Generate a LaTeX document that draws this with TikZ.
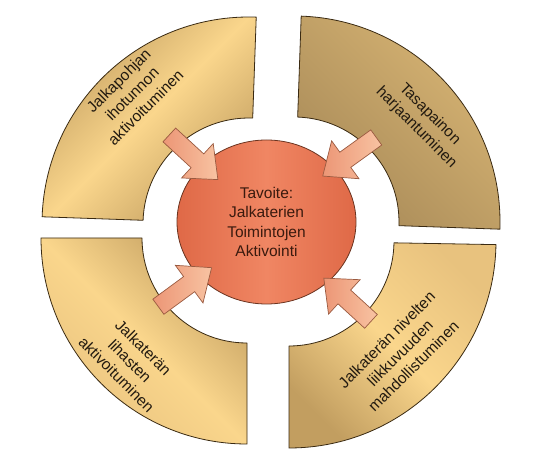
\documentclass[tikz,border=0pt]{standalone}
\usepackage{fontspec}
\setmainfont{Liberation Sans}
\usetikzlibrary{calc,shapes.arrows,shapes.geometric}
\definecolor{segLight}{HTML}{FAD68C}
\definecolor{segMid}{HTML}{E8C27E}
\definecolor{segDark}{HTML}{C29E60}
\definecolor{trDark}{HTML}{A88A58}
\definecolor{trLight}{HTML}{D8B574}
\definecolor{segLine}{HTML}{3A2A12}
\definecolor{circA}{HTML}{DF6947}
\definecolor{circB}{HTML}{F08663}
\definecolor{circLine}{HTML}{6B3420}
\definecolor{arrA}{HTML}{EC9676}
\definecolor{arrB}{HTML}{F8C3A2}
\definecolor{arrLine}{HTML}{9A5A40}
\definecolor{txt}{HTML}{221A10}
\definecolor{ctxt}{HTML}{3A1A0E}
\tikzset{
  seg/.style={draw=segLine, line width=0.8pt, line join=round},
  segtext/.style={font=\fontsize{15.5}{19}\selectfont, align=center, text=txt, inner sep=0pt},
  inarrow/.style={single arrow, draw=arrLine, line width=0.7pt,
    left color=arrA, right color=arrB,
    minimum height=#1, inner xsep=0pt, inner ysep=9pt,
    single arrow head extend=14pt, single arrow tip angle=80,
    single arrow head indent=0pt},
}
\begin{document}
\begin{tikzpicture}[x=1pt,y=1pt]
\fill[white] (0,0) rectangle (554,-462);
\useasboundingbox (0,0) rectangle (554,-462);
% corners of the four quarter rings
\coordinate (cTL) at (249,-224);
\coordinate (cTR) at (294,-222);
\coordinate (cBL) at (247,-238);
\coordinate (cBR) at (289,-241);
% top left ring
\shade[seg, top color=segDark, bottom color=segDark, middle color=segLight, shading angle=45]
  ($(cTL)+(88:207)$) arc[start angle=88, end angle=178, radius=207]
  -- ($(cTL)+(178:106)$) arc[start angle=178, end angle=88, radius=106] -- cycle;
% top right ring
\shade[seg, top color=trLight, bottom color=trDark, shading angle=-45]
  ($(cTR)+(-2:206)$) arc[start angle=-2, end angle=88, radius=206]
  -- ($(cTR)+(88:105)$) arc[start angle=88, end angle=-2, radius=105] -- cycle;
% bottom left ring
\shade[seg, top color=segDark, bottom color=segMid, middle color=segLight, shading angle=-45]
  ($(cBL)+(180:206)$) arc[start angle=180, end angle=270, radius=206]
  -- ($(cBL)+(270:105)$) arc[start angle=270, end angle=180, radius=105] -- cycle;
% bottom right ring
\shade[seg, top color=segMid, bottom color=segDark, middle color=segLight, shading angle=-45]
  ($(cBR)+(-90:207)$) arc[start angle=-90, end angle=-1, radius=207]
  -- ($(cBR)+(-1:105)$) arc[start angle=-1, end angle=-90, radius=105] -- cycle;
% ring texts
\node[segtext, rotate=45] (tTL) at (132,-94) {Jalkapohjan\\ihotunnon\\aktivoituminen};
\node[segtext, rotate=-45] (tTR) at (423,-121) {Tasapainon\\harjaantuminen};
\node[segtext, rotate=-45] (tBL) at (130,-361) {Jalkaterän\\lihasten\\aktivoituminen};
\node[segtext, rotate=45] (tBR) at (400,-353) {Jalkaterän nivelten\\liikkuvuuden\\mahdollistuminen};
% centre
\node[ellipse, draw=circLine, line width=0.8pt, left color=circA, right color=circA, middle color=circB,
  minimum width=179pt, minimum height=164pt, inner sep=0pt,
  font=\fontsize{15.5}{19.5}\selectfont, align=center, text=ctxt] (goal) at (266.5,-222)
  {Tavoite:\\Jalkaterien\\Toimintojen\\Aktivointi};
% arrows
\node[inarrow=66pt, rotate=-42.6] (aTL) at (189.5,-153.5) {};
\node[inarrow=66pt, rotate=-144.2] (aTR) at (354,-153.5) {};
\node[inarrow=66pt, rotate=36.3] (aBL) at (180.5,-290.5) {};
\node[inarrow=64pt, rotate=137.5] (aBR) at (351.5,-303.5) {};
\end{tikzpicture}
\end{document}
